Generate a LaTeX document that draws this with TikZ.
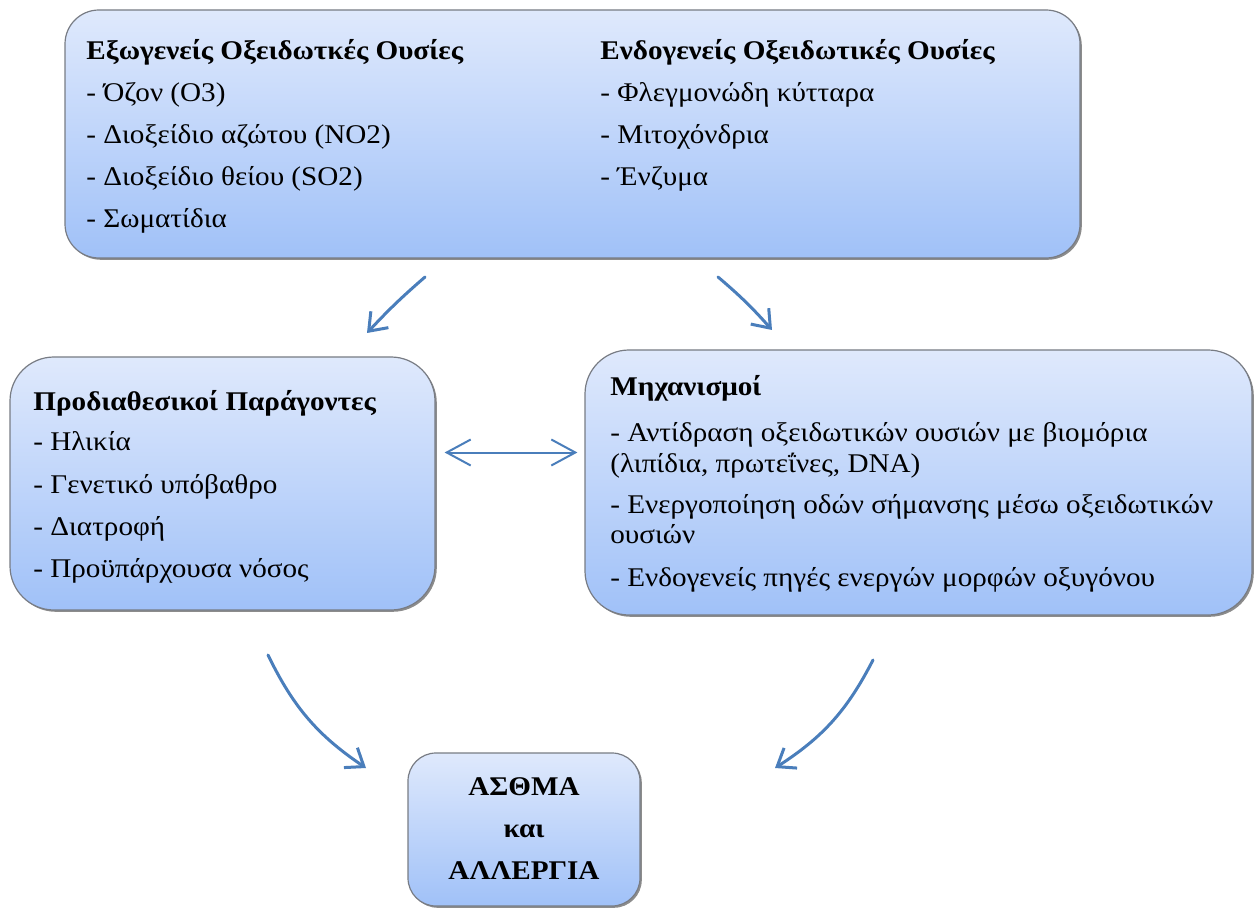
\documentclass[tikz,border=0pt]{standalone}
\usepackage{fontspec}
\setmainfont[FakeStretch=1.08]{Liberation Serif}
\usepackage{tikz}
\usetikzlibrary{arrows.meta,shadows}
\definecolor{boxtop}{RGB}{223,233,252}
\definecolor{boxbot}{RGB}{160,193,248}
\definecolor{boxline}{RGB}{120,124,132}
\definecolor{arrowblue}{RGB}{74,126,187}

\begin{document}
\begin{tikzpicture}[x=0.5pt,y=-0.5pt,
    box/.style={draw=boxline, line width=0.6pt, top color=boxtop, bottom color=boxbot,
        drop shadow={shadow xshift=0.9pt, shadow yshift=-0.9pt, fill=black, opacity=0.45}},
    txt/.style={anchor=base west, inner sep=0pt, font=\fontsize{13.5}{15}\selectfont},
    head/.style={txt, font=\fontsize{13.5}{15}\selectfont\bfseries},
    flow/.style={draw=arrowblue, line width=1.5pt, line cap=round,
        -{Straight Barb[length=8pt,width=12pt,line width=1.5pt]}},
    both/.style={draw=arrowblue, line width=1pt,
        {Straight Barb[length=12pt,width=13pt]}-{Straight Barb[length=12pt,width=13pt]}}]
    \useasboundingbox (0,0) rectangle (1256,908);

    % Boxes
    \node[box, rounded corners=17pt, minimum width=507.5pt, minimum height=124pt] (sources) at (572.5,134) {};
    \node[box, rounded corners=22pt, minimum width=212.5pt, minimum height=126.5pt] (factors) at (222.5,483.5) {};
    \node[box, rounded corners=22pt, minimum width=333.5pt, minimum height=132.5pt] (mechanisms) at (918.5,482.5) {};
    \node[box, rounded corners=14pt, minimum width=116pt, minimum height=76.5pt] (asthma) at (524,829.5) {};

    % Exogenous
    \node[head] (exoTitle) at (86,60) {Εξωγενείς Οξειδωτκές Ουσίες};
    \node[txt] (exoA) at (86,102) {- Όζον (O3)};
    \node[txt] (exoB) at (86,144) {- Διοξείδιο αζώτου (NO2)};
    \node[txt] (exoC) at (86,186) {- Διοξείδιο θείου (SO2)};
    \node[txt] (exoD) at (86,228) {- Σωματίδια};

    % Endogenous
    \node[head] (endoTitle) at (600,60) {Ενδογενείς Οξειδωτικές Ουσίες};
    \node[txt] (endoA) at (600,102) {- Φλεγμονώδη κύτταρα};
    \node[txt] (endoB) at (600,144) {- Μιτοχόνδρια};
    \node[txt] (endoC) at (600,186) {- Ένζυμα};

    % Predisposing factors
    \node[head] (facTitle) at (33,410) {Προδιαθεσικοί Παράγοντες};
    \node[txt] (facA) at (33,451) {- Ηλικία};
    \node[txt] (facB) at (33,493) {- Γενετικό υπόβαθρο};
    \node[txt] (facC) at (33,535) {- Διατροφή};
    \node[txt] (facD) at (33,577) {- Προϋπάρχουσα νόσος};

    % Mechanisms
    \node[head] (mecTitle) at (610,396) {Μηχανισμοί};
    \node[txt] (mecA) at (610,441) {- Αντίδραση οξειδωτικών ουσιών με βιομόρια};
    \node[txt] (mecA2) at (610,472) {(λιπίδια, πρωτεΐνες, DNA)};
    \node[txt] (mecB) at (610,513) {- Ενεργοποίηση οδών σήμανσης μέσω οξειδωτικών};
    \node[txt] (mecB2) at (610,543) {ουσιών};
    \node[txt] (mecC) at (610,586) {- Ενδογενείς πηγές ενεργών μορφών οξυγόνου};

    % Outcome
    \node[head, anchor=base] (outA) at (524,795) {ΑΣΘΜΑ};
    \node[head, anchor=base] (outB) at (524,837) {και};
    \node[head, anchor=base] (outC) at (524,879) {ΑΛΛΕΡΓΙΑ};

    % Arrow ends
    \coordinate (s1) at (425,277);
    \coordinate (e1) at (367,333);
    \coordinate (s2) at (718,277);
    \coordinate (e2) at (772,330);
    \coordinate (s3) at (268,655);
    \coordinate (e3) at (366,768);
    \coordinate (s4) at (873,660);
    \coordinate (e4) at (775,768);

    % Arrows
    \draw[flow] (s1) to[bend right=3] (e1);
    \draw[flow] (s2) to[bend left=4] (e2);
    \draw[flow] (s3) to[bend right=15] (e3);
    \draw[flow] (s4) to[bend left=15] (e4);
    \draw[both] (factors.east) ++(9,-31) coordinate (d1) -- ([xshift=-3.5pt]mechanisms.west |- d1);
\end{tikzpicture}
\end{document}
